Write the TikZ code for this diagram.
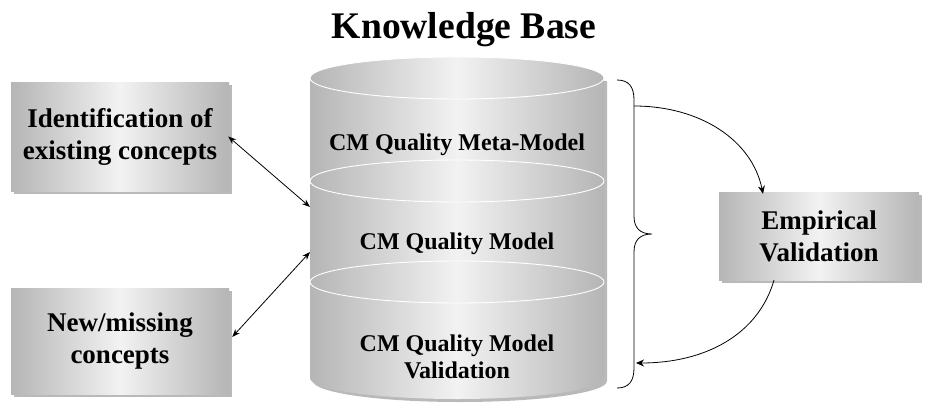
\documentclass[tikz,border=0pt]{standalone}
\usepackage{fontspec}
\setmainfont{Liberation Serif}
\usetikzlibrary{arrows.meta,shadows}
\begin{document}
\begin{tikzpicture}[x=1pt,y=-1pt,
  greyfade/.style={left color=gray!58, right color=gray!58, middle color=gray!10},
  conceptbox/.style={rectangle, greyfade, inner sep=0pt, align=center,
    font=\fontsize{27}{32}\selectfont\bfseries,
    drop shadow={shadow xshift=3pt, shadow yshift=-3pt, fill=gray!55, opacity=1}},
  layertext/.style={align=center, font=\fontsize{24}{27}\selectfont\bfseries},
  link/.style={line width=0.8pt, -{Stealth[length=8pt,width=7pt]}},
  twoway/.style={line width=0.8pt, {Stealth[length=8pt,width=6pt]}-{Stealth[length=8pt,width=6pt]}}
]
\useasboundingbox (0,0) rectangle (925,404);

% title
\node[font=\fontsize{37.6}{40}\selectfont\bfseries] (title) at (464,30) {Knowledge Base};

% cylinder: shadow first, then three stacked layers from top to bottom
\def\cx{457}\def\rx{147}\def\ry{21}
\fill[gray!55] (\cx-\rx+3,81) -- (\cx-\rx+3,381)
  arc[start angle=180, end angle=0, x radius=\rx, y radius=\ry] -- (\cx+\rx+3,81) -- cycle;
\foreach \t/\b in {78/181, 181/282, 282/378}{
  \path[greyfade] (\cx-\rx,\t) -- (\cx-\rx,\b)
    arc[start angle=180, end angle=0, x radius=\rx, y radius=\ry] -- (\cx+\rx,\t) -- cycle;
  \path[greyfade, draw=white, line width=0.9pt] (\cx,\t) ellipse[x radius=\rx, y radius=\ry];
}
\node[layertext] (meta) at (\cx,145) {CM Quality Meta-Model};
\node[layertext] (model) at (\cx,244) {CM Quality Model};
\node[layertext] (valid) at (\cx,357) {CM Quality Model\\Validation};
\coordinate (cylA) at (310,207);
\coordinate (cylB) at (310,252);

% side boxes
\node[conceptbox, minimum width=218pt, minimum height=109pt] (ident) at (120,136.5)
  {Identification of\\existing concepts};
\node[conceptbox, minimum width=218pt, minimum height=106pt] (newc) at (120,341)
  {New/missing\\concepts};
\node[conceptbox, minimum width=200pt, minimum height=88pt] (emp) at (819,236)
  {Empirical\\Validation};

% two-way links to the knowledge base
\draw[twoway] ([xshift=-1pt]ident.east) -- (cylA);
\draw[twoway] ([xshift=3pt,yshift=4pt]newc.east) -- (cylB);

% brace spanning the three layers
\draw[line width=0.8pt] (617,80) .. controls (629,80) and (634,87) .. (634,100)
  -- (634,216) .. controls (634,228) and (640,234) .. (652,234)
  .. controls (640,234) and (634,240) .. (634,252)
  -- (634,368) .. controls (634,381) and (629,388) .. (617,388);
\coordinate (braceTop) at (634,106);
\coordinate (braceBot) at (636,363);

% validation loop
\draw[link] (braceTop) .. controls (700,106) and (752,140) .. ([xshift=-56pt,yshift=-2pt]emp.north);
\draw[link] ([xshift=-45pt]emp.south) .. controls (758,335) and (705,363) .. (braceBot);
\end{tikzpicture}
\end{document}
